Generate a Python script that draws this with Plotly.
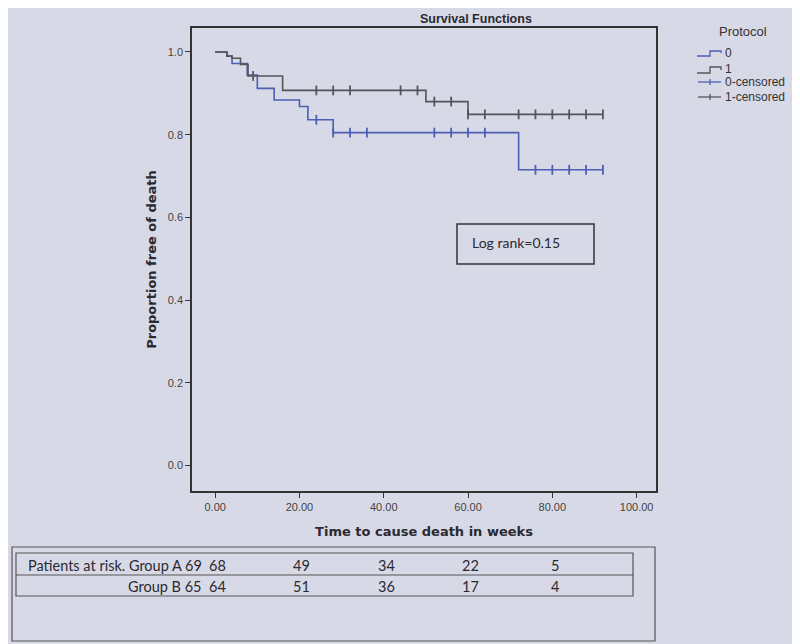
import plotly.graph_objects as go

# Kaplan-Meier steps
# protocol 0 (blue)
times_0 = [0, 2.8, 4, 7.6, 10, 14, 20, 22, 28, 72, 92]
surv_0 = [1.0, 0.990, 0.972, 0.944, 0.912, 0.884, 0.868, 0.836, 0.805, 0.715, 0.715]
cens_t_0 = [24, 28, 32, 36, 52, 56, 60, 64, 76, 80, 84, 88, 92]
cens_s_0 = [0.836, 0.805, 0.805, 0.805, 0.805, 0.805, 0.805, 0.805,
            0.715, 0.715, 0.715, 0.715, 0.715]

# protocol 1 (grey)
times_1 = [0, 2.8, 4, 6, 7.8, 16, 50, 60, 92]
surv_1 = [1.0, 0.990, 0.985, 0.970, 0.942, 0.907, 0.880, 0.849, 0.849]
cens_t_1 = [9, 24, 28, 32, 44, 48, 52, 56, 60, 64, 72, 76, 80, 84, 88, 92]
cens_s_1 = [0.942, 0.907, 0.907, 0.907, 0.907, 0.907, 0.880, 0.880,
            0.849, 0.849, 0.849, 0.849, 0.849, 0.849, 0.849, 0.849]

# patients at risk table
risk_weeks = [0, 20, 40, 60, 80]
risk_a = [68, 49, 34, 22, 5]
risk_b = [64, 51, 36, 17, 4]
start_a = 69
start_b = 65

legend_names = ["0", "1", "0-censored", "1-censored"]

blue = "#4b5fb4"
grey = "#55555a"
bg = "#d8d9e6"
ink = "#2a2a30"

# plot area in window pixels (page body adds an 8px offset)
OFF = 8
L, R, T, B = 192, 656, 28, 491


def px(xp):
    return (xp - L) / (R - L)


def py(yp):
    return (B - yp) / (B - T)


fig = go.Figure()

fig.add_trace(go.Scatter(x=times_0, y=surv_0, mode="lines", line_shape="hv",
                         line=dict(color=blue, width=1.6), name="0"))
fig.add_trace(go.Scatter(x=times_1, y=surv_1, mode="lines", line_shape="hv",
                         line=dict(color=grey, width=1.6), name="1"))
fig.add_trace(go.Scatter(x=cens_t_0, y=cens_s_0, mode="markers",
                         marker=dict(symbol="line-ns-open", size=7, color=blue,
                                     line=dict(color=blue, width=1.8)),
                         name="0-censored"))
fig.add_trace(go.Scatter(x=cens_t_1, y=cens_s_1, mode="markers",
                         marker=dict(symbol="line-ns-open", size=7, color=grey,
                                     line=dict(color=grey, width=1.8)),
                         name="1-censored"))

axis_font = dict(family="Liberation Sans", size=11, color="#444")
title_font = dict(family="DejaVu Sans", size=13, color=ink)

fig.update_xaxes(range=[-5.5, 104.6], tickvals=[0, 20, 40, 60, 80, 100],
                 tickformat=".2f", ticks="outside", ticklen=5, tickcolor="#333",
                 showline=True, linecolor="#333", linewidth=1.5, mirror=True,
                 showgrid=False, zeroline=False, tickfont=axis_font, automargin=False,
                 title=dict(text="<b>Time to cause death in weeks</b>",
                            font=title_font, standoff=15))
fig.update_yaxes(range=[-0.062, 1.058], tickvals=[0, 0.2, 0.4, 0.6, 0.8, 1.0],
                 tickformat=".1f", ticks="outside", ticklen=5, tickcolor="#333",
                 showline=True, linecolor="#333", linewidth=1.5, mirror=True,
                 showgrid=False, zeroline=False, tickfont=axis_font, automargin=False,
                 title=dict(text="<b>Proportion free of death</b>",
                            font=title_font, standoff=8))

line_box = dict(color="#555", width=1.2)
shapes = [
    # log rank box
    dict(type="rect", xref="paper", yref="paper", x0=px(457), x1=px(594),
         y0=py(264), y1=py(224), line=dict(color="#333", width=1.5)),
    # risk table boxes
    dict(type="rect", xref="paper", yref="paper", x0=px(12), x1=px(655),
         y0=py(641), y1=py(547), line=line_box),
    dict(type="rect", xref="paper", yref="paper", x0=px(16), x1=px(633),
         y0=py(596), y1=py(553), line=line_box),
    dict(type="line", xref="paper", yref="paper", x0=px(16), x1=px(633),
         y0=py(575), y1=py(575), line=line_box),
]


def step_glyph(y_low, y_high, y_end, color):
    pts = [(697, y_low), (710, y_low), (710, y_high), (721, y_high), (721, y_end)]
    path = "M " + " L ".join(f"{px(a)},{py(b)}" for a, b in pts)
    return dict(type="path", xref="paper", yref="paper", path=path,
                line=dict(color=color, width=1.3))


def cross_glyph(yc, color):
    return [dict(type="line", xref="paper", yref="paper", x0=px(698), x1=px(721),
                 y0=py(yc), y1=py(yc), line=dict(color=color, width=1.3)),
            dict(type="line", xref="paper", yref="paper", x0=px(710), x1=px(710),
                 y0=py(yc - 3), y1=py(yc + 3), line=dict(color=color, width=1.3))]


legend_rows = [53, 69, 82, 97]
shapes.append(step_glyph(56, 51, 53, blue))
shapes.append(step_glyph(73, 67, 70, grey))
shapes += cross_glyph(legend_rows[2], blue)
shapes += cross_glyph(legend_rows[3], grey)


def label(text, x, y, font, xanchor="center", xref="paper"):
    return dict(text=text, xref=xref, yref="paper", x=x, y=y, showarrow=False,
                xanchor=xanchor, yanchor="middle", font=font)


table_font = dict(family="Lato", size=14.5, color=ink)
legend_font = dict(family="Liberation Sans", size=12, color="#333")
annotations = [
    label("<b>Survival Functions</b>", px(476), py(19),
          dict(family="Liberation Sans", size=12.5, color=ink)),
    label("Log rank=0.15", px(516), py(243),
          dict(family="Lato", size=14, color=ink)),
    label("Protocol", px(743), py(31),
          dict(family="Liberation Sans", size=13, color="#333")),
    label(f"Patients at risk. Group A {start_a}", px(204), py(565), table_font,
          xanchor="right"),
    label(f"Group B {start_b}", px(204), py(586), table_font, xanchor="right"),
]
for name, yr in zip(legend_names, legend_rows):
    annotations.append(label(name, px(723), py(yr), legend_font, xanchor="left"))
for wk, a, b in zip(risk_weeks, risk_a, risk_b):
    annotations.append(label(str(a), wk + 0.6, py(565), table_font, xref="x"))
    annotations.append(label(str(b), wk + 0.6, py(586), table_font, xref="x"))

fig.update_layout(
    width=800, height=644,
    margin=dict(l=L - OFF, r=800 - (R - OFF), t=T - OFF, b=644 - (B - OFF)),
    paper_bgcolor=bg, plot_bgcolor=bg,
    showlegend=False,
    shapes=shapes,
    annotations=annotations,
)

fig.write_html("out.html")
